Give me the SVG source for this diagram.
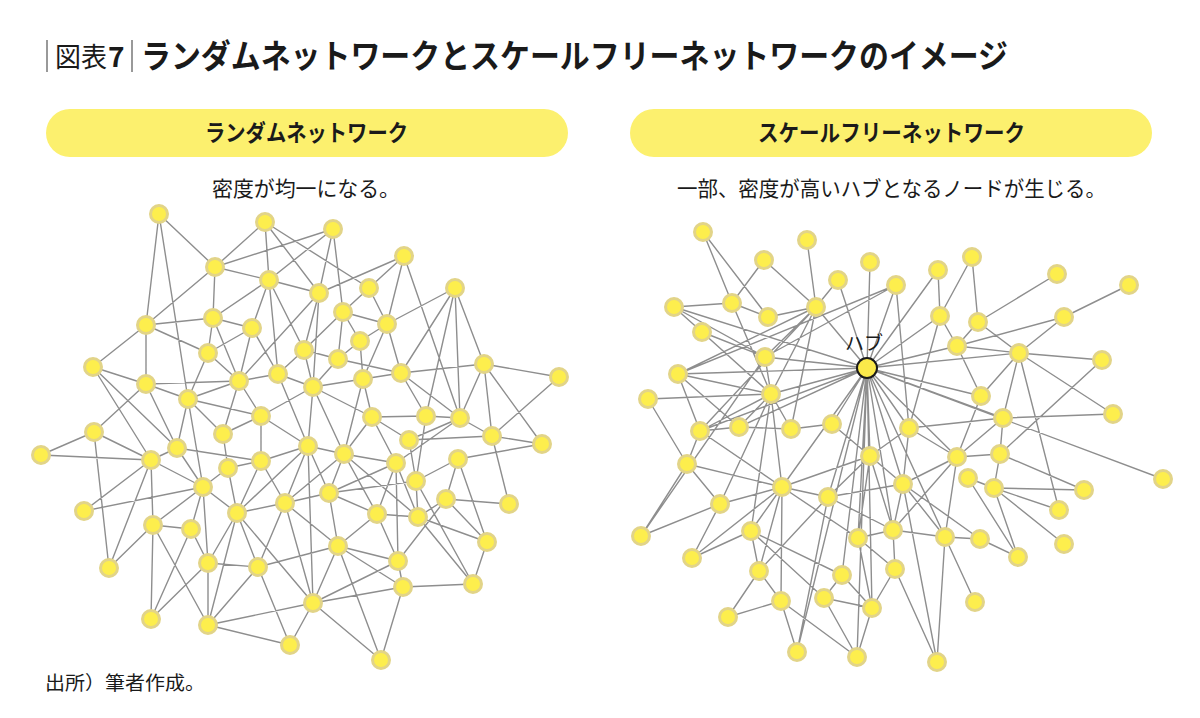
<svg xmlns="http://www.w3.org/2000/svg" width="1200" height="718" viewBox="0 0 1200 718">
<style>
.e{stroke:#8e8e8e;stroke-width:1.4;fill:none}
.n{fill:#fdee4d;stroke:#e2d488;stroke-width:3}
.hub{fill:#fbe94a;stroke:#1a1a1a;stroke-width:2}
.jp{font-family:"Noto Sans CJK JP","Noto Sans",sans-serif;fill:#1a1a1a}
.pill{fill:#fcf06e}
</style>
<rect width="1200" height="718" fill="#ffffff"/>
<g id="title">
<line x1="47" y1="40" x2="47" y2="72" stroke="#555" stroke-width="1.2"/>
<text x="55" y="67" class="jp" font-size="27" textLength="52" lengthAdjust="spacingAndGlyphs">図表</text>
<text x="108" y="67" class="jp" font-size="28" font-weight="bold" font-family="Liberation Sans, sans-serif">7</text>
<line x1="132" y1="40" x2="132" y2="72" stroke="#555" stroke-width="1.2"/>
<text x="141" y="68" class="jp" font-size="33" font-weight="bold" textLength="867" lengthAdjust="spacingAndGlyphs">ランダムネットワークとスケールフリーネットワークのイメージ</text>
</g>
<g id="header-left">
<rect x="46" y="109" width="522" height="48" rx="24" class="pill"/>
<text x="205" y="141" class="jp" font-size="23" font-weight="bold" textLength="203" lengthAdjust="spacingAndGlyphs">ランダムネットワーク</text>
<text x="212" y="196" class="jp" font-size="21" textLength="188" lengthAdjust="spacingAndGlyphs">密度が均一になる。</text>
</g>
<g id="header-right">
<rect x="630" y="109" width="522" height="48" rx="24" class="pill"/>
<text x="758" y="141" class="jp" font-size="23" font-weight="bold" textLength="267" lengthAdjust="spacingAndGlyphs">スケールフリーネットワーク</text>
<text x="677" y="196" class="jp" font-size="21" textLength="429" lengthAdjust="spacingAndGlyphs">一部、密度が高いハブとなるノードが生じる。</text>
</g>
<g id="connectors" class="e">
<path d="M159 214L146 325M159 214L188 399M159 214L215 267M265 222L215 267M265 222L269 280M265 222L369 288M265 222L319 293M215 267L333 229M269 280L333 229M269 280L215 267M269 280L213 318M269 280L252 328M269 280L278 374M269 280L304 350M269 280L319 293M146 325L215 267M146 325L213 318M146 325L208 353M146 325L93 367M146 325L146 384M213 318L215 267M213 318L252 328M213 318L208 353M213 318L239 381M252 328L208 353M252 328L239 381M252 328L278 374M208 353L188 399M208 353L239 381M93 367L146 384M93 367L177 448M93 367L151 460M146 384L239 381M146 384L188 399M146 384L94 432M146 384L177 448M188 399L239 381M188 399L261 416M188 399L223 434M188 399L177 448M188 399L203 487M239 381L278 374M239 381L261 416M239 381L223 434M239 381L319 293M278 374L304 350M278 374L313 387M278 374L308 446M261 416L223 434M261 416L313 387M261 416L308 446M261 416L261 461M94 432L41 455M94 432L151 460M94 432L109 568M223 434L228 468M41 455L151 460M151 460L177 448M151 460L203 487M151 460L84 511M151 460L153 525M151 460L109 568M177 448L261 461M177 448L203 487M203 487L84 511M203 487L228 468M203 487L237 513M203 487L153 525M203 487L191 529M203 487L208 563M228 468L261 461M228 468L237 513M261 461L308 446M261 461L237 513M261 461L285 503M237 513L285 503M237 513L208 563M237 513L258 567M237 513L208 625M237 513L308 446M237 513L313 603M285 503L308 446M285 503L258 567M285 503L313 603M285 503L329 493M285 503L344 454M153 525L191 529M153 525L208 625M153 525L151 619M153 525L109 568M191 529L208 563M191 529L151 619M208 563L258 567M208 563L151 619M208 563L208 625M258 567L208 625M258 567L290 645M258 567L338 546M208 625L290 645M208 625L313 603M290 645L313 603M308 446L313 603M308 446L344 454M308 446L329 493M344 454L396 463M344 454L329 493M344 454L377 514M344 454L418 517M344 454L313 387M344 454L372 417M396 463L329 493M396 463L377 514M396 463L398 561M396 463L418 517M396 463L372 417M396 463L460 418M409 440L492 436M409 440L416 481M416 481L458 459M416 481L418 517M416 481L329 493M416 481L473 584M416 481L426 416M458 459L542 444M458 459L446 499M458 459L487 542M492 436L542 444M492 436L509 504M542 444L484 364M329 493L338 546M329 493L377 514M377 514L418 517M377 514L338 546M377 514L398 561M418 517L446 499M418 517L487 542M418 517L473 584M446 499L509 504M446 499L487 542M446 499L398 561M487 542L473 584M338 546L398 561M338 546L403 587M338 546L313 603M338 546L381 660M338 546L285 503M398 561L313 603M398 561L403 587M403 587L473 584M403 587L313 603M403 587L381 660M313 603L381 660M333 229L319 293M333 229L343 312M404 256L369 288M404 256L319 293M404 256L387 324M404 256L460 418M369 288L387 324M369 288L343 312M455 288L387 324M455 288L401 373M455 288L426 416M455 288L460 418M455 288L484 364M343 312L360 341M343 312L387 324M343 312L338 359M343 312L304 350M387 324L360 341M387 324L363 379M387 324L401 373M360 341L338 359M360 341L363 379M304 350L338 359M304 350L313 387M338 359L313 387M338 359L401 373M313 387L363 379M313 387L308 446M313 387L372 417M363 379L401 373M363 379L372 417M363 379L344 454M401 373L484 364M401 373L426 416M401 373L460 418M484 364L559 377M484 364L460 418M484 364L542 444M484 364L492 436M559 377L492 436M372 417L426 416M372 417L409 440M426 416L460 418M460 418L492 436M460 418L409 440M319 293L313 387M319 293L304 350"/>
<path d="M703 232L732 303M703 232L768 317M764 260L732 303M764 260L816 307M807 240L816 307M870 262L867 368M838 280L816 307M838 280L867 368M896 285L678 374M896 285L765 357M896 285L867 368M896 285L909 428M674 307L732 303M674 307L702 332M674 307L867 368M674 307L765 357M732 303L768 317M732 303L771 394M768 317L816 307M816 307L678 374M816 307L765 357M816 307L771 394M816 307L867 368M816 307L791 429M816 307L700 431M702 332L765 357M702 332L771 394M765 357L867 368M765 357L771 394M678 374L867 368M678 374L771 394M678 374L700 431M678 374L739 427M648 399L771 394M648 399L687 464M771 394L867 368M771 394L700 431M771 394L739 427M771 394L791 429M700 431L739 427M700 431L867 368M700 431L687 464M700 431L782 487M739 427L791 429M739 427L867 368M791 429L832 424M832 424L870 456M832 424L867 368M909 428L867 368M909 428L957 457M909 428L903 484M909 428L870 456M938 270L940 316M938 270L867 368M972 257L940 316M972 257L978 322M1057 274L978 322M1129 285L1064 317M940 316L867 368M940 316L957 346M940 316L909 428M978 322L957 346M978 322L1019 353M1064 317L957 346M1064 317L1019 353M957 346L1019 353M957 346L867 368M957 346L981 396M1019 353L867 368M1019 353L1102 360M1019 353L1113 414M1019 353L981 396M1019 353L1003 418M1019 353L1059 510M1102 360L1000 454M981 396L867 368M981 396L957 457M1113 414L1003 418M1003 418L909 428M1003 418L867 368M1003 418L1000 454M1003 418L957 457M867 368L1163 479M957 457L1000 454M957 457L903 484M957 457L893 530M957 457L945 537M867 368L957 457M1000 454L994 488M1000 454L1084 490M968 478L994 488M968 478L1018 557M994 488L1084 490M994 488L1059 510M994 488L1064 544M994 488L1018 557M903 484L893 530M903 484L945 537M903 484L980 539M903 484L937 662M893 530L945 537M893 530L895 569M945 537L980 539M945 537L975 602M945 537L937 662M980 539L1018 557M895 569L937 662M867 368L945 537M687 464L641 536M687 464L782 487M687 464L720 504M782 487L720 504M782 487L828 497M782 487L870 456M782 487L751 531M782 487L759 571M782 487L781 601M782 487L858 538M782 487L692 558M782 487L771 394M867 368L782 487M720 504L641 536M720 504L692 558M720 504L771 394M870 456L828 497M870 456L858 538M870 456L893 530M870 456L903 484M867 368L870 456M828 497L903 484M828 497L893 530M828 497L759 571M828 497L797 652M867 368L828 497M751 531L692 558M751 531L759 571M751 531L842 575M751 531L824 598M751 531L771 394M858 538L893 530M858 538L895 569M858 538L872 608M867 368L858 538M759 571L781 601M759 571L728 617M842 575L824 598M842 575L872 608M867 368L842 575M895 569L872 608M824 598L872 608M824 598L857 657M781 601L728 617M781 601L797 652M781 601L857 657M872 608L857 657M641 536L765 357M867 368L797 652M867 368L893 530M867 368L903 484M867 368L857 657M867 368L872 608"/>
</g>
<g id="nodes-left">
<g id="L1"><circle cx="159" cy="214" r="8.5" class="n"/></g>
<g id="L2"><circle cx="265" cy="222" r="8.5" class="n"/></g>
<g id="L3"><circle cx="333" cy="229" r="8.5" class="n"/></g>
<g id="L4"><circle cx="404" cy="256" r="8.5" class="n"/></g>
<g id="L5"><circle cx="215" cy="267" r="8.5" class="n"/></g>
<g id="L6"><circle cx="269" cy="280" r="8.5" class="n"/></g>
<g id="L7"><circle cx="319" cy="293" r="8.5" class="n"/></g>
<g id="L8"><circle cx="369" cy="288" r="8.5" class="n"/></g>
<g id="L9"><circle cx="455" cy="288" r="8.5" class="n"/></g>
<g id="L10"><circle cx="146" cy="325" r="8.5" class="n"/></g>
<g id="L11"><circle cx="213" cy="318" r="8.5" class="n"/></g>
<g id="L12"><circle cx="252" cy="328" r="8.5" class="n"/></g>
<g id="L13"><circle cx="343" cy="312" r="8.5" class="n"/></g>
<g id="L14"><circle cx="387" cy="324" r="8.5" class="n"/></g>
<g id="L15"><circle cx="208" cy="353" r="8.5" class="n"/></g>
<g id="L16"><circle cx="304" cy="350" r="8.5" class="n"/></g>
<g id="L17"><circle cx="338" cy="359" r="8.5" class="n"/></g>
<g id="L18"><circle cx="360" cy="341" r="8.5" class="n"/></g>
<g id="L19"><circle cx="93" cy="367" r="8.5" class="n"/></g>
<g id="L20"><circle cx="146" cy="384" r="8.5" class="n"/></g>
<g id="L21"><circle cx="239" cy="381" r="8.5" class="n"/></g>
<g id="L22"><circle cx="278" cy="374" r="8.5" class="n"/></g>
<g id="L23"><circle cx="313" cy="387" r="8.5" class="n"/></g>
<g id="L24"><circle cx="363" cy="379" r="8.5" class="n"/></g>
<g id="L25"><circle cx="401" cy="373" r="8.5" class="n"/></g>
<g id="L26"><circle cx="484" cy="364" r="8.5" class="n"/></g>
<g id="L27"><circle cx="559" cy="377" r="8.5" class="n"/></g>
<g id="L28"><circle cx="188" cy="399" r="8.5" class="n"/></g>
<g id="L29"><circle cx="261" cy="416" r="8.5" class="n"/></g>
<g id="L30"><circle cx="372" cy="417" r="8.5" class="n"/></g>
<g id="L31"><circle cx="426" cy="416" r="8.5" class="n"/></g>
<g id="L32"><circle cx="460" cy="418" r="8.5" class="n"/></g>
<g id="L33"><circle cx="94" cy="432" r="8.5" class="n"/></g>
<g id="L34"><circle cx="223" cy="434" r="8.5" class="n"/></g>
<g id="L35"><circle cx="308" cy="446" r="8.5" class="n"/></g>
<g id="L36"><circle cx="409" cy="440" r="8.5" class="n"/></g>
<g id="L37"><circle cx="492" cy="436" r="8.5" class="n"/></g>
<g id="L38"><circle cx="542" cy="444" r="8.5" class="n"/></g>
<g id="L39"><circle cx="41" cy="455" r="8.5" class="n"/></g>
<g id="L40"><circle cx="151" cy="460" r="8.5" class="n"/></g>
<g id="L41"><circle cx="177" cy="448" r="8.5" class="n"/></g>
<g id="L42"><circle cx="261" cy="461" r="8.5" class="n"/></g>
<g id="L43"><circle cx="228" cy="468" r="8.5" class="n"/></g>
<g id="L44"><circle cx="344" cy="454" r="8.5" class="n"/></g>
<g id="L45"><circle cx="396" cy="463" r="8.5" class="n"/></g>
<g id="L46"><circle cx="458" cy="459" r="8.5" class="n"/></g>
<g id="L47"><circle cx="203" cy="487" r="8.5" class="n"/></g>
<g id="L48"><circle cx="329" cy="493" r="8.5" class="n"/></g>
<g id="L49"><circle cx="285" cy="503" r="8.5" class="n"/></g>
<g id="L50"><circle cx="416" cy="481" r="8.5" class="n"/></g>
<g id="L51"><circle cx="446" cy="499" r="8.5" class="n"/></g>
<g id="L52"><circle cx="509" cy="504" r="8.5" class="n"/></g>
<g id="L53"><circle cx="84" cy="511" r="8.5" class="n"/></g>
<g id="L54"><circle cx="237" cy="513" r="8.5" class="n"/></g>
<g id="L55"><circle cx="377" cy="514" r="8.5" class="n"/></g>
<g id="L56"><circle cx="418" cy="517" r="8.5" class="n"/></g>
<g id="L57"><circle cx="153" cy="525" r="8.5" class="n"/></g>
<g id="L58"><circle cx="191" cy="529" r="8.5" class="n"/></g>
<g id="L59"><circle cx="338" cy="546" r="8.5" class="n"/></g>
<g id="L60"><circle cx="487" cy="542" r="8.5" class="n"/></g>
<g id="L61"><circle cx="208" cy="563" r="8.5" class="n"/></g>
<g id="L62"><circle cx="258" cy="567" r="8.5" class="n"/></g>
<g id="L63"><circle cx="398" cy="561" r="8.5" class="n"/></g>
<g id="L64"><circle cx="109" cy="568" r="8.5" class="n"/></g>
<g id="L65"><circle cx="403" cy="587" r="8.5" class="n"/></g>
<g id="L66"><circle cx="473" cy="584" r="8.5" class="n"/></g>
<g id="L67"><circle cx="313" cy="603" r="8.5" class="n"/></g>
<g id="L68"><circle cx="151" cy="619" r="8.5" class="n"/></g>
<g id="L69"><circle cx="208" cy="625" r="8.5" class="n"/></g>
<g id="L70"><circle cx="290" cy="645" r="8.5" class="n"/></g>
<g id="L71"><circle cx="381" cy="660" r="8.5" class="n"/></g>
</g>
<g id="nodes-right">
<g id="R1"><circle cx="703" cy="232" r="8.5" class="n"/></g>
<g id="R2"><circle cx="807" cy="240" r="8.5" class="n"/></g>
<g id="R3"><circle cx="764" cy="260" r="8.5" class="n"/></g>
<g id="R4"><circle cx="870" cy="262" r="8.5" class="n"/></g>
<g id="R5"><circle cx="838" cy="280" r="8.5" class="n"/></g>
<g id="R6"><circle cx="896" cy="285" r="8.5" class="n"/></g>
<g id="R7"><circle cx="674" cy="307" r="8.5" class="n"/></g>
<g id="R8"><circle cx="732" cy="303" r="8.5" class="n"/></g>
<g id="R9"><circle cx="768" cy="317" r="8.5" class="n"/></g>
<g id="R10"><circle cx="816" cy="307" r="8.5" class="n"/></g>
<g id="R11"><circle cx="702" cy="332" r="8.5" class="n"/></g>
<g id="R12"><circle cx="765" cy="357" r="8.5" class="n"/></g>
<g id="R13"><circle cx="678" cy="374" r="8.5" class="n"/></g>
<g id="R14"><circle cx="648" cy="399" r="8.5" class="n"/></g>
<g id="R15"><circle cx="771" cy="394" r="8.5" class="n"/></g>
<g id="R16"><circle cx="700" cy="431" r="8.5" class="n"/></g>
<g id="R17"><circle cx="739" cy="427" r="8.5" class="n"/></g>
<g id="R18"><circle cx="791" cy="429" r="8.5" class="n"/></g>
<g id="R19"><circle cx="832" cy="424" r="8.5" class="n"/></g>
<g id="R20"><circle cx="909" cy="428" r="8.5" class="n"/></g>
<g id="R21"><circle cx="870" cy="456" r="8.5" class="n"/></g>
<g id="R22"><circle cx="938" cy="270" r="8.5" class="n"/></g>
<g id="R23"><circle cx="972" cy="257" r="8.5" class="n"/></g>
<g id="R24"><circle cx="1057" cy="274" r="8.5" class="n"/></g>
<g id="R25"><circle cx="1129" cy="285" r="8.5" class="n"/></g>
<g id="R26"><circle cx="940" cy="316" r="8.5" class="n"/></g>
<g id="R27"><circle cx="978" cy="322" r="8.5" class="n"/></g>
<g id="R28"><circle cx="1064" cy="317" r="8.5" class="n"/></g>
<g id="R29"><circle cx="957" cy="346" r="8.5" class="n"/></g>
<g id="R30"><circle cx="1019" cy="353" r="8.5" class="n"/></g>
<g id="R31"><circle cx="1102" cy="360" r="8.5" class="n"/></g>
<g id="R32"><circle cx="981" cy="396" r="8.5" class="n"/></g>
<g id="R33"><circle cx="1113" cy="414" r="8.5" class="n"/></g>
<g id="R34"><circle cx="1003" cy="418" r="8.5" class="n"/></g>
<g id="R35"><circle cx="957" cy="457" r="8.5" class="n"/></g>
<g id="R36"><circle cx="1000" cy="454" r="8.5" class="n"/></g>
<g id="R37"><circle cx="687" cy="464" r="8.5" class="n"/></g>
<g id="R38"><circle cx="782" cy="487" r="8.5" class="n"/></g>
<g id="R39"><circle cx="720" cy="504" r="8.5" class="n"/></g>
<g id="R40"><circle cx="828" cy="497" r="8.5" class="n"/></g>
<g id="R41"><circle cx="903" cy="484" r="8.5" class="n"/></g>
<g id="R42"><circle cx="641" cy="536" r="8.5" class="n"/></g>
<g id="R43"><circle cx="751" cy="531" r="8.5" class="n"/></g>
<g id="R44"><circle cx="858" cy="538" r="8.5" class="n"/></g>
<g id="R45"><circle cx="893" cy="530" r="8.5" class="n"/></g>
<g id="R46"><circle cx="692" cy="558" r="8.5" class="n"/></g>
<g id="R47"><circle cx="759" cy="571" r="8.5" class="n"/></g>
<g id="R48"><circle cx="842" cy="575" r="8.5" class="n"/></g>
<g id="R49"><circle cx="895" cy="569" r="8.5" class="n"/></g>
<g id="R50"><circle cx="824" cy="598" r="8.5" class="n"/></g>
<g id="R51"><circle cx="781" cy="601" r="8.5" class="n"/></g>
<g id="R52"><circle cx="872" cy="608" r="8.5" class="n"/></g>
<g id="R53"><circle cx="728" cy="617" r="8.5" class="n"/></g>
<g id="R54"><circle cx="797" cy="652" r="8.5" class="n"/></g>
<g id="R55"><circle cx="857" cy="657" r="8.5" class="n"/></g>
<g id="R56"><circle cx="968" cy="478" r="8.5" class="n"/></g>
<g id="R57"><circle cx="994" cy="488" r="8.5" class="n"/></g>
<g id="R58"><circle cx="1084" cy="490" r="8.5" class="n"/></g>
<g id="R59"><circle cx="1059" cy="510" r="8.5" class="n"/></g>
<g id="R60"><circle cx="1064" cy="544" r="8.5" class="n"/></g>
<g id="R61"><circle cx="945" cy="537" r="8.5" class="n"/></g>
<g id="R62"><circle cx="980" cy="539" r="8.5" class="n"/></g>
<g id="R63"><circle cx="1018" cy="557" r="8.5" class="n"/></g>
<g id="R64"><circle cx="975" cy="602" r="8.5" class="n"/></g>
<g id="R65"><circle cx="937" cy="662" r="8.5" class="n"/></g>
<g id="R66"><circle cx="1163" cy="479" r="8.5" class="n"/></g>
<g id="hub"><circle cx="867" cy="368" r="10" class="hub"/><text x="845" y="350" class="jp" font-size="19">ハブ</text></g>
</g>
<g id="source"><text x="45" y="690" class="jp" font-size="19" textLength="160" lengthAdjust="spacingAndGlyphs">出所）筆者作成。</text></g>
</svg>
